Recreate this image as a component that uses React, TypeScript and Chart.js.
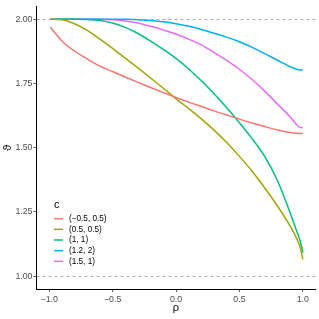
import React, { useEffect, useRef } from "react";
import { Chart, registerables } from "chart.js";

Chart.register(...registerables);

const rho = [-0.99, -0.9, -0.8, -0.7, -0.6, -0.5, -0.4, -0.3, -0.2, -0.1, 0, 0.1, 0.2, 0.3, 0.4, 0.5, 0.6, 0.7, 0.8, 0.9, 0.95, 0.98, 1.0];

const seriesLabels = ["(\u22120.5, 0.5)", "(0.5, 0.5)", "(1, 1)", "(1.2, 2)", "(1.5, 1)"];
const seriesColors = ["#F8766D", "#A3A500", "#00BF7D", "#00B0F6", "#E76BF3"];

const thetaA = [1.968, 1.915, 1.876, 1.845, 1.817, 1.796, 1.775, 1.754, 1.734, 1.714, 1.695, 1.677, 1.66, 1.643, 1.627, 1.611, 1.596, 1.582, 1.569, 1.559, 1.556, 1.555, 1.555];
const thetaB = [2.0, 1.998, 1.982, 1.956, 1.922, 1.886, 1.848, 1.81, 1.771, 1.731, 1.69, 1.652, 1.612, 1.568, 1.52, 1.466, 1.408, 1.343, 1.273, 1.195, 1.148, 1.11, 1.065];
const thetaC = [2.0, 2.0, 2.0, 1.999, 1.995, 1.985, 1.968, 1.944, 1.914, 1.882, 1.847, 1.806, 1.76, 1.71, 1.655, 1.597, 1.535, 1.465, 1.372, 1.246, 1.178, 1.135, 1.092];
const thetaD = [2.0, 2.0, 2.0, 2.0, 2.0, 2.0, 2.0, 1.998, 1.995, 1.99, 1.982, 1.972, 1.96, 1.945, 1.93, 1.912, 1.89, 1.866, 1.84, 1.815, 1.805, 1.802, 1.802];
const thetaE = [2.0, 2.0, 2.0, 2.0, 2.0, 1.998, 1.993, 1.985, 1.972, 1.958, 1.942, 1.922, 1.9, 1.87, 1.84, 1.805, 1.765, 1.72, 1.67, 1.62, 1.59, 1.578, 1.578];

const seriesValues = [thetaA, thetaB, thetaC, thetaD, thetaE];

const xTicks = [-1, -0.5, 0, 0.5, 1];
const yTicks = [1.0, 1.25, 1.5, 1.75, 2.0];
const refLines = [1.0, 2.0];

const FONT = "'Liberation Sans', Arial, sans-serif";

function fmtX(v: number) {
  const s = Math.abs(v).toFixed(1);
  return v < 0 ? "\u2212" + s : s;
}

export default function App() {
  const ref = useRef<HTMLCanvasElement | null>(null);

  useEffect(() => {
    if (!ref.current) return;
    const overlay = {
      id: "overlay",
      beforeDatasetsDraw(chart: any) {
        const { ctx, chartArea, scales } = chart;
        ctx.save();
        ctx.strokeStyle = "#8C8C8C";
        ctx.lineWidth = 0.7;
        ctx.setLineDash([3, 3]);
        for (const v of refLines) {
          const y = Math.round(scales.y.getPixelForValue(v)) + 0.5;
          ctx.beginPath();
          ctx.moveTo(chartArea.left, y);
          ctx.lineTo(chartArea.right, y);
          ctx.stroke();
        }
        ctx.restore();
      },
      afterDraw(chart: any) {
        const { ctx, chartArea } = chart;
        ctx.save();
        ctx.fillStyle = "#000";
        ctx.font = `11px ${FONT}`;
        ctx.textAlign = "center";
        ctx.textBaseline = "middle";
        ctx.fillText("\u03C1", (chartArea.left + chartArea.right) / 2, 308);
        ctx.save();
        ctx.translate(8, (chartArea.top + chartArea.bottom) / 2);
        ctx.rotate(-Math.PI / 2);
        ctx.fillText("\u03D1", 0, 0);
        ctx.restore();
        ctx.textAlign = "left";
        ctx.font = `11px ${FONT}`;
        ctx.fillText("c", 54, 205);
        ctx.font = `8.2px ${FONT}`;
        for (let i = 0; i < seriesLabels.length; i++) {
          const y = 218.7 + i * 10.65;
          ctx.strokeStyle = seriesColors[i];
          ctx.lineWidth = 1.5;
          ctx.beginPath();
          ctx.moveTo(54, y);
          ctx.lineTo(63, y);
          ctx.stroke();
          ctx.fillStyle = "#000";
          ctx.fillText(seriesLabels[i], 69, y);
        }
        ctx.restore();
      },
    };

    const chart = new Chart(ref.current, {
      type: "line",
      data: {
        datasets: seriesValues.map((vals, i) => ({
          label: seriesLabels[i],
          data: vals.map((v, j) => ({ x: rho[j], y: v })),
          borderColor: seriesColors[i],
          borderWidth: 1.5,
          pointRadius: 0,
          fill: false,
          cubicInterpolationMode: "monotone" as const,
        })),
      },
      options: {
        animation: false,
        responsive: false,
        events: [],
        layout: { padding: { left: 0, right: 3.5, top: 4, bottom: 0 } },
        plugins: { legend: { display: false }, tooltip: { enabled: false } },
        scales: {
          x: {
            type: "linear",
            min: -1.1,
            max: 1.1,
            afterBuildTicks: (s: any) => {
              s.ticks = xTicks.map((v) => ({ value: v }));
            },
            afterFit: (s: any) => {
              s.height = 30;
            },
            ticks: {
              callback: (v: any) => fmtX(Number(v)),
              color: "#4D4D4D",
              font: { family: FONT, size: 8.8 },
              padding: 2,
              maxRotation: 0,
            },
            grid: { drawOnChartArea: false, tickLength: 3, tickColor: "#333", tickWidth: 0.8 },
            border: { display: true, color: "#000", width: 1 },
          },
          y: {
            type: "linear",
            min: 0.95,
            max: 2.05,
            afterBuildTicks: (s: any) => {
              s.ticks = yTicks.map((v) => ({ value: v }));
            },
            afterFit: (s: any) => {
              s.width = 36.5;
            },
            ticks: {
              callback: (v: any) => Number(v).toFixed(2),
              color: "#4D4D4D",
              font: { family: FONT, size: 8.8 },
              padding: 1,
            },
            grid: { drawOnChartArea: false, tickLength: 3, tickColor: "#333", tickWidth: 0.8 },
            border: { display: true, color: "#000", width: 1 },
          },
        },
      },
      plugins: [overlay],
    });
    return () => chart.destroy();
  }, []);

  return (
    <div style={{ position: "fixed", left: 0, top: 0, width: 319, height: 319, background: "#fff" }}>
      <canvas ref={ref} width={319} height={319} />
    </div>
  );
}
